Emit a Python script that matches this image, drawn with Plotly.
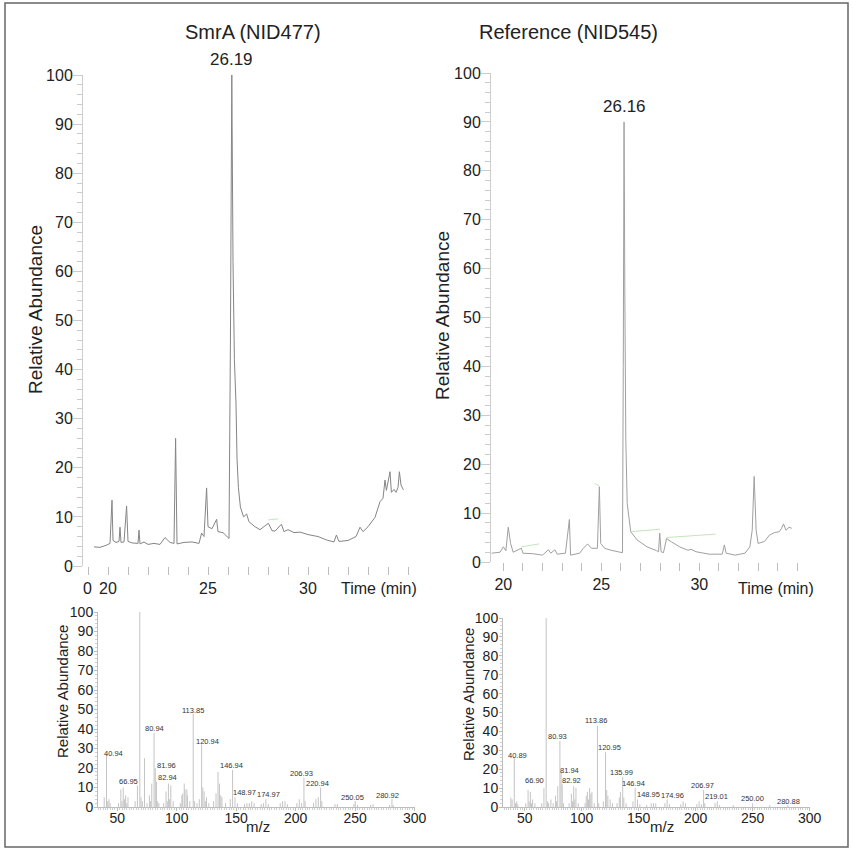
import plotly.graph_objects as go

# ---------------- Chromatogram data ----------------
left_time = [19.3, 19.6, 19.9, 20.1, 20.2, 20.25, 20.4, 20.55, 20.6, 20.65, 20.8, 20.93, 21.0, 21.2, 21.5,
             21.55, 21.6, 21.8, 22.0, 22.3, 22.6, 22.85, 23.1, 23.3, 23.38, 23.45, 23.8, 24.2, 24.55, 24.68,
             24.8, 24.93, 25.0, 25.2, 25.43, 25.5, 25.75, 26.05, 26.12, 26.19, 26.25, 26.32, 26.4, 26.45,
             26.52, 26.62, 26.78, 26.93, 27.05, 27.35, 27.6, 28.02, 28.2, 28.35, 28.67, 28.8, 29.0, 29.3,
             29.6, 30.0, 30.5, 30.93, 31.3, 31.42, 31.55, 32.0, 32.4, 32.6, 32.75, 33.0, 33.35, 33.6, 33.75,
             33.85, 33.92, 34.1, 34.17, 34.3, 34.4, 34.5, 34.57, 34.65, 34.77]
left_abund = [3.9, 3.8, 4.2, 4.6, 13.4, 5.2, 4.8, 5.0, 7.9, 4.8, 4.9, 12.2, 5.0, 4.7, 4.6,
              7.3, 4.5, 4.9, 4.4, 4.6, 4.4, 5.8, 4.8, 4.6, 26.0, 4.5, 4.8, 4.9, 4.6, 6.7,
              6.0, 15.9, 8.0, 7.6, 9.5, 7.0, 6.8, 5.6, 45.0, 100.0, 62.0, 42.0, 33.0, 22.0,
              16.0, 12.0, 10.0, 10.6, 9.0, 8.0, 7.4, 8.7, 7.2, 7.1, 8.5, 7.0, 7.4, 6.8,
              6.9, 6.4, 6.0, 5.3, 4.9, 6.3, 5.0, 5.2, 6.0, 7.9, 7.0, 8.0, 9.9, 13.1, 13.8,
              17.5, 15.4, 19.2, 15.0, 15.6, 15.0, 16.0, 19.2, 16.5, 15.5]

right_time = [19.4, 19.7, 19.83, 20.0, 20.13, 20.25, 20.37, 20.5, 20.92, 21.0, 21.5, 22.0, 22.3, 22.42,
              22.63, 22.75, 23.17, 23.37, 23.43, 23.9, 24.08, 24.3, 24.5, 24.8, 24.9, 24.97, 25.17, 25.5,
              25.83, 26.08, 26.12, 26.16, 26.2, 26.25, 26.32, 26.42, 26.5, 26.83, 27.33, 27.83, 27.92,
              27.98, 28.05, 28.17, 28.25, 28.33, 28.58, 29.0, 29.42, 29.58, 29.83, 30.5, 31.17, 31.28,
              31.37, 31.83, 32.33, 32.58, 32.7, 32.8, 32.9, 33.0, 33.33, 33.58, 33.83, 34.08, 34.2, 34.3,
              34.42, 34.58, 34.72]
right_abund = [1.8, 1.9, 2.0, 3.1, 2.3, 7.1, 3.8, 2.0, 2.8, 1.8, 1.7, 1.4, 2.5, 1.8,
               2.5, 1.6, 1.8, 8.7, 1.4, 1.8, 2.8, 3.7, 2.8, 2.8, 15.4, 3.8, 2.8, 2.4,
               2.1, 1.9, 40.0, 90.0, 55.0, 25.0, 12.0, 8.6, 6.2, 4.5, 3.1, 2.3, 2.1,
               5.9, 2.1, 1.9, 3.1, 4.8, 4.1, 3.1, 2.4, 2.6, 2.1, 1.6, 1.6, 3.5,
               1.8, 1.4, 1.8, 3.1, 6.5, 17.5, 6.5, 3.8, 4.2, 5.5, 6.0, 6.2, 6.9, 7.8,
               6.5, 7.1, 6.9]

# integration baselines (faint green segments): start time, start abund, end time, end abund
left_base = [(28.02, 9.4, 28.52, 9.6)]
right_base = [(20.92, 3.1, 21.83, 3.7), (26.5, 6.2, 28.0, 6.7), (28.33, 5.0, 30.83, 5.7), (24.67, 16.0, 24.88, 15.6)]

chrom_time_ticks = list(range(19, 36))
chrom_time_labels = ["20", "25", "30"]

# ---------------- Mass spectra data ----------------
left_mz = [39, 40.94, 42, 43, 44, 51, 53, 54, 55, 56, 57, 58, 59, 65, 66.95, 68.94, 70, 71, 72.9, 75, 77, 78,
           79, 80.94, 81.96, 82.94, 84, 85, 89, 91, 92, 93, 94, 95, 97, 103, 104.3, 105, 106.3, 107, 108.5,
           109, 111, 113.85, 115, 117, 119, 120.94, 121.9, 123, 124, 125, 127, 131, 133, 134.7, 135.9, 137,
           138, 141, 145, 146.94, 148.97, 151, 157, 159, 161, 163, 165, 171, 173, 174.97, 177, 187, 189,
           191, 193, 201, 203, 205, 206.93, 207.9, 215, 217, 219, 220.94, 222, 233, 235, 249, 250.05, 252,
           263, 265, 279, 280.92, 282]
left_int = [5, 27, 3, 4, 2, 2, 9, 3, 10, 4, 6, 2, 5, 3, 11, 100, 5, 3, 25, 2, 6, 3,
            12, 38, 20, 13, 3, 2, 2, 8, 3, 12, 4, 11, 3, 2, 6, 7, 12, 9, 9,
            6, 3, 48, 3, 2, 4, 32, 10, 8, 3, 5, 2, 3, 7, 18, 12, 6,
            5, 2, 4, 19, 5, 2, 1.5, 2, 2, 3, 2, 1.5, 2, 4, 1.5, 2, 3,
            3, 1.5, 2, 4, 2, 15, 3, 2, 4, 5, 10, 3, 1.5, 1.5, 1.5, 3, 1,
            1, 1.5, 1, 4, 1]
left_lab_mz = ["40.94", "66.95", "68.94", "80.94", "81.96", "82.94", "113.85", "120.94", "146.94",
               "148.97", "174.97", "206.93", "220.94", "250.05", "280.92"]
left_lab_x = [46.6, 59.3, 69.1, 81.0, 91.7, 92.2, 113.6, 125.5, 146.0, 157.3, 177.5, 204.8, 218.4, 247.4, 277.5]
left_lab_y = [27.6, 13.1, 102.2, 40.4, 21.1, 15.3, 49.7, 33.7, 21.5, 7.5, 6.6, 17.4, 11.8, 4.8, 6.0]

right_mz = [37.9, 39, 40.89, 42, 43, 44, 51, 53, 54, 55, 56, 57, 59, 65, 66.90, 68.87, 70, 71, 73, 75, 77, 78,
            79, 80.93, 81.94, 82.92, 84, 89, 91, 92, 93, 94, 95, 97, 103, 104, 105, 106, 107, 108, 109, 111,
            113.86, 115, 119, 120.95, 122, 123, 125, 127, 131, 133, 134, 135.99, 137, 139, 145, 146.94,
            148.95, 151, 157, 161, 163, 165, 173, 174.96, 177, 187, 189, 191, 201, 203, 205, 206.97, 208,
            217, 219.01, 221, 233, 250.00, 265, 280.88]
right_int = [5, 4, 26, 2, 3, 1.5, 2, 9, 3, 8, 2, 4, 2, 2, 10, 100, 3, 2, 4, 2, 6, 3,
             11, 35, 18, 12, 2, 2, 7, 3, 11, 4, 10, 2, 2, 6, 8, 4, 10, 7, 8, 2,
             43, 2, 3, 29, 9, 6, 4, 2, 2, 5, 8, 16, 5, 2, 3, 10,
             4, 1.5, 1, 2, 2, 2, 2, 4, 1.5, 1.5, 3, 2, 1.5, 3, 1.5, 9, 2,
             2, 3, 1, 1, 2, 1, 1]
right_lab_mz = ["40.89", "66.90", "68.87", "80.93", "81.94", "82.92", "113.86", "120.95", "135.99",
                "146.94", "148.95", "174.96", "206.97", "219.01", "250.00", "280.88"]
right_lab_x = [43.3, 58.8, 63.7, 79.2, 89.5, 90.9, 112.9, 124.0, 134.8, 145.9, 158.2, 180.1, 206.4, 218.1, 249.7, 281.0]
right_lab_y = [27.4, 14.2, 101.8, 37.5, 19.1, 13.8, 45.7, 31.7, 18.1, 12.2, 6.7, 6.2, 11.2, 5.7, 4.4, 2.8]

FONT = "Liberation Sans, Arial, sans-serif"
W, H = 853, 850


def px_x(p):
    return p / W


def px_y(p):
    return 1 - p / H


def sticks(mz, inten):
    xs, ys = [], []
    for m, v in zip(mz, inten):
        xs += [m, m, None]
        ys += [0, v, None]
    return xs, ys


fig = go.Figure()

# chromatograms
fig.add_trace(go.Scatter(x=left_time, y=left_abund, mode="lines", line=dict(color="#858585", width=1),
                         xaxis="x", yaxis="y", hoverinfo="skip"))
fig.add_trace(go.Scatter(x=right_time, y=right_abund, mode="lines", line=dict(color="#a0a0a0", width=1),
                         xaxis="x2", yaxis="y2", hoverinfo="skip"))
for seglist, xa, ya in [(left_base, "x", "y"), (right_base, "x2", "y2")]:
    for (t0, a0, t1, a1) in seglist:
        fig.add_trace(go.Scatter(x=[t0, t1], y=[a0, a1], mode="lines", line=dict(color="#c3e6bd", width=1),
                                 xaxis=xa, yaxis=ya, hoverinfo="skip"))

# mass spectra
lx, ly = sticks(left_mz, left_int)
fig.add_trace(go.Scatter(x=lx, y=ly, mode="lines", line=dict(color="#c4c4c4", width=1),
                         xaxis="x3", yaxis="y3", hoverinfo="skip", connectgaps=False))
rx, ry = sticks(right_mz, right_int)
fig.add_trace(go.Scatter(x=rx, y=ry, mode="lines", line=dict(color="#c4c4c4", width=1),
                         xaxis="x4", yaxis="y4", hoverinfo="skip", connectgaps=False))

tick_text = [str(t) if str(t) in chrom_time_labels else "" for t in chrom_time_ticks]

chrom_x_common = dict(showline=False, showgrid=False, zeroline=False, tickmode="array",
                      tickvals=chrom_time_ticks, ticktext=tick_text, ticks="outside", ticklen=8,
                      tickcolor="#bdbdbd", tickwidth=1, tickfont=dict(size=16, color="#222", family=FONT))
chrom_y_common = dict(showline=True, linecolor="#cccccc", linewidth=1, showgrid=False, zeroline=False,
                      range=[0, 100], dtick=10, tick0=0, ticks="outside", ticklen=9, tickcolor="#cccccc",
                      ticklabelstandoff=-3,
                      tickfont=dict(size=16, color="#222", family=FONT),
                      minor=dict(dtick=2, tick0=0, ticks="outside", ticklen=5, tickcolor="#cccccc"))
ms_x_common = dict(showline=True, linecolor="#bdbdbd", linewidth=1, showgrid=False, zeroline=False,
                   dtick=50, tick0=0, ticks="outside", ticklen=3, tickcolor="#bdbdbd",
                   ticklabelstandoff=-5,
                   tickfont=dict(size=14, color="#222", family=FONT),
                   minor=dict(dtick=2, tick0=0, ticks="outside", ticklen=2, tickcolor="#cfcfcf"))
ms_y_common = dict(showline=True, linecolor="#bdbdbd", linewidth=1, showgrid=False, zeroline=False,
                   range=[0, 100], dtick=10, tick0=0, ticks="outside", ticklen=3, tickcolor="#bdbdbd",
                   ticklabelstandoff=-2,
                   tickfont=dict(size=14, color="#222", family=FONT),
                   minor=dict(dtick=2, tick0=0, ticks="outside", ticklen=2, tickcolor="#cfcfcf"))

fig.update_layout(
    width=W, height=H, margin=dict(l=0, r=0, t=0, b=0, autoexpand=False),
    paper_bgcolor="white", plot_bgcolor="white", showlegend=False,
    font=dict(family=FONT, color="#222"),
    xaxis=dict(domain=[px_x(83), px_x(418)], range=[18.75, 35.5], anchor="y", **chrom_x_common),
    yaxis=dict(domain=[px_y(566), px_y(75)], anchor="x", **chrom_y_common),
    xaxis2=dict(domain=[px_x(491), px_x(830)], range=[19.37, 36.67], anchor="y2", **chrom_x_common),
    yaxis2=dict(domain=[px_y(562), px_y(73)], anchor="x2", **chrom_y_common),
    xaxis3=dict(domain=[px_x(98), px_x(415)], range=[33.8, 300.3], anchor="y3", **ms_x_common),
    yaxis3=dict(domain=[px_y(807), px_y(612)], anchor="x3", **ms_y_common),
    xaxis4=dict(domain=[px_x(503), px_x(810)], range=[31, 300.3], anchor="y4", **ms_x_common),
    yaxis4=dict(domain=[px_y(807), px_y(618)], anchor="x4", **ms_y_common),
)


def paper_text(text, xp, yp, size, angle=0):
    return dict(text=text, x=px_x(xp), y=px_y(yp), xref="paper", yref="paper", xanchor="center",
                yanchor="middle", showarrow=False, textangle=angle,
                font=dict(size=size, family=FONT, color="#222"))


ann = []
# titles
ann.append(paper_text("SmrA (NID477)", 253, 32, 20))
ann.append(paper_text("Reference (NID545)", 568, 32, 20))
# peak labels
ann.append(dict(text="26.19", x=26.19, y=px_y(60), xref="x", yref="paper", xanchor="center", yanchor="middle",
                showarrow=False, font=dict(size=17, family=FONT, color="#222")))
ann.append(dict(text="26.16", x=26.16, y=90.8, xref="x2", yref="y2", xanchor="center", yanchor="bottom",
                showarrow=False, font=dict(size=17, family=FONT, color="#222")))
# axis titles
for xp, yp, size in [(35, 310, 19), (442, 316, 19), (62, 692, 15), (468, 694, 15)]:
    ann.append(paper_text("Relative Abundance", xp, yp, size, angle=-90))
ann.append(paper_text("Time (min)", 379, 588, 16))
ann.append(paper_text("Time (min)", 776, 588, 16))
ann.append(paper_text("0", 87, 588, 16))
ann.append(paper_text("m/z", 258, 826, 15))
ann.append(paper_text("m/z", 662, 826, 15))
# MS peak labels
for t, x, y in zip(left_lab_mz, left_lab_x, left_lab_y):
    ann.append(dict(text=t, x=x, y=y, xref="x3", yref="y3", xanchor="center", yanchor="middle",
                    showarrow=False, font=dict(size=7.5, family=FONT, color="#333")))
for t, x, y in zip(right_lab_mz, right_lab_x, right_lab_y):
    ann.append(dict(text=t, x=x, y=y, xref="x4", yref="y4", xanchor="center", yanchor="middle",
                    showarrow=False, font=dict(size=7.5, family=FONT, color="#333")))
fig.update_layout(annotations=ann)

# outer frame
fig.add_shape(type="rect", xref="paper", yref="paper", x0=px_x(5), x1=px_x(848), y0=px_y(847), y1=px_y(3),
              line=dict(color="#666", width=1.5), fillcolor="rgba(0,0,0,0)")

fig.write_html("out.html", config={"displayModeBar": False},
               post_script="document.body.style.margin='0';document.body.style.overflow='hidden';")
